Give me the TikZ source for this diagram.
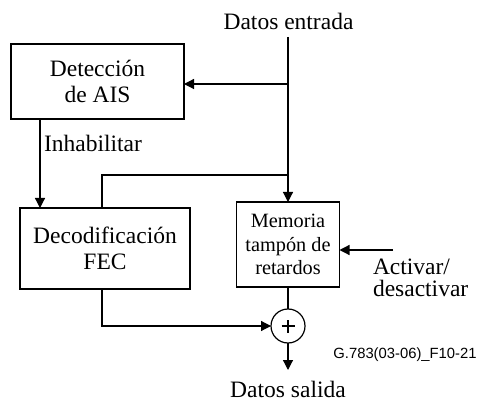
\documentclass[tikz,border=0pt]{standalone}
\usepackage{fontspec}
\setmainfont{Liberation Serif}
\newfontfamily\labelsans{Liberation Sans}
\usetikzlibrary{arrows.meta}
\begin{document}
\begin{tikzpicture}[x=1pt,y=-1pt,
  every node/.style={inner sep=0pt,outer sep=0pt},
  blk/.style={draw,line width=1.2pt,rectangle,align=center,
    font=\fontsize{23.5}{26}\selectfont},
  lbl/.style={font=\fontsize{23.5}{26}\selectfont},
  wire/.style={line width=1.2pt},
  arr/.style={wire,-{Triangle[length=10pt,width=10pt]}}]
\useasboundingbox (0,0) rectangle (487,403);
% blocks
\node[blk,minimum width=173pt,minimum height=75pt] (det) at (97.5,81.5) {Detección\\de AIS};
\node[blk,minimum width=170pt,minimum height=81pt] (dec) at (105,248.5) {Decodificación\\FEC};
\node[blk,minimum width=103pt,minimum height=85pt,font=\fontsize{20.3}{23.5}\selectfont] (mem) at (288,244.5) {Memoria\\tampón de\\retardos};
\node[draw,circle,line width=1.2pt,minimum size=34pt] (sum) at (288,326) {};
% texts
\node[lbl,anchor=base] (din) at (288.5,30) {Datos entrada};
\node[lbl,anchor=base] (dout) at (288,397) {Datos salida};
\node[lbl,anchor=base west] (inh) at (44,152) {Inhabilitar};
\node[lbl,anchor=north west,align=left,font=\fontsize{23.5}{22}\selectfont] (act) at (373,259) {Activar/\\desactivar};
\node[anchor=base,font=\labelsans\fontsize{14.8}{16}\selectfont] (fig) at (405,358) {G.783(03-06)\_F10-21};
% coordinates
\coordinate (in) at (288,37);
\coordinate (j1) at (288,84);
\coordinate (j2) at (288,175);
\coordinate (actin) at (393,250);
\coordinate (out) at (288,370);
% connectors
\draw[arr] (in) -- (mem.north);
\draw[arr] (j1) -- (j1 -| det.east);
\draw[arr] ([xshift=29pt]det.south west) -- ([xshift=20pt]dec.north west);
\draw[wire] ([xshift=82pt]dec.north west) |- (j2);
\draw[wire] (mem.south) -- (sum.north);
\draw[arr] ([xshift=82pt]dec.south west) |- (sum.west);
\draw[arr] (sum.south) -- (out);
\draw[arr] (actin) -- (actin -| mem.east);
% plus sign
\draw[line width=2pt] ([xshift=-6.5pt]sum.center) -- ([xshift=6.5pt]sum.center);
\draw[line width=2pt] ([yshift=-6.5pt]sum.center) -- ([yshift=6.5pt]sum.center);
\end{tikzpicture}
\end{document}
